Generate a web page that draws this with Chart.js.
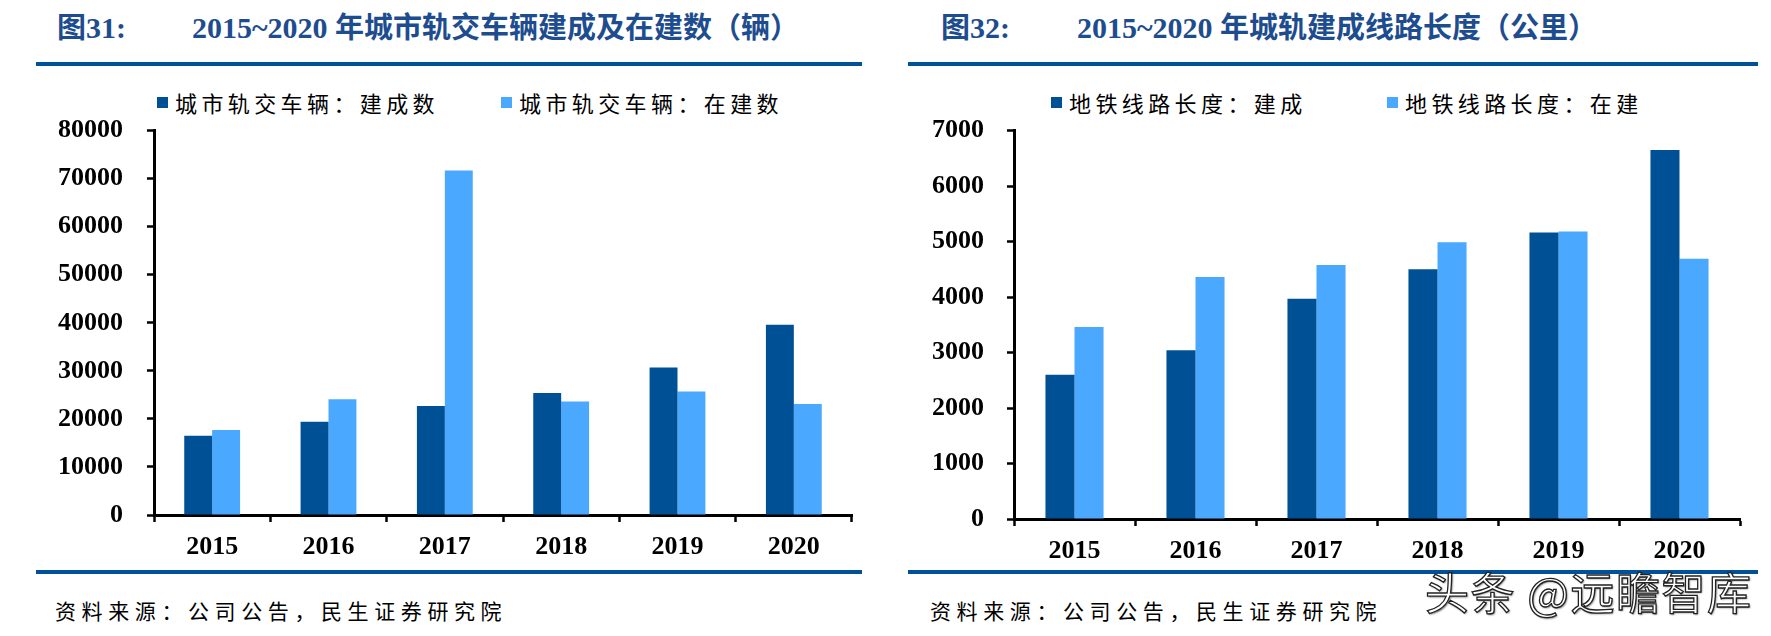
<!DOCTYPE html>
<html><head><meta charset="utf-8">
<script src="https://cdn.jsdelivr.net/npm/chart.js@4.4.0/dist/chart.umd.min.js"></script>
<style>
html,body{margin:0;padding:0;background:#fff;}
body{width:1771px;height:636px;position:relative;overflow:hidden;font-family:"Noto Sans CJK SC",sans-serif;}
.abs{position:absolute;white-space:nowrap;}
.title{color:#1E4D8F;font-weight:bold;font-family:"Liberation Serif","Noto Sans CJK SC",serif;font-size:30px;line-height:30px;}
.title .cjk{font-size:29px;font-family:"Noto Sans CJK SC",sans-serif;}
.rule{background:#00519A;height:4px;}
.src{font-size:21px;letter-spacing:5.6px;color:#000;line-height:24px;}
.leg{font-size:22px;letter-spacing:4.4px;color:#000;line-height:24px;display:flex;align-items:center;}
.leg i{display:inline-block;width:11px;height:11px;margin-right:7px;}
.wm{font-size:44px;color:#fff;-webkit-text-stroke:1.3px #222;text-shadow:1px 1px 2px rgba(0,0,0,0.6);line-height:46px;letter-spacing:1.5px;}
canvas{position:absolute;}
</style></head>
<body>
<div class="abs title" style="left:57px;top:10px;"><span class="cjk">图</span>31:</div>
<div class="abs title" style="left:192px;top:10px;">2015~2020 <span class="cjk">年城市轨交车辆建成及在建数（辆）</span></div>
<div class="abs title" style="left:941px;top:10px;"><span class="cjk">图</span>32:</div>
<div class="abs title" style="left:1077px;top:10px;">2015~2020 <span class="cjk">年城轨建成线路长度（公里）</span></div>
<div class="abs rule" style="left:36px;top:62px;width:826px;"></div>
<div class="abs rule" style="left:908px;top:62px;width:850px;"></div>
<div class="abs rule" style="left:36px;top:570px;width:826px;"></div>
<div class="abs rule" style="left:908px;top:570px;width:850px;"></div>
<div id="leg1"></div>
<div id="leg2"></div>
<canvas id="c1" width="885" height="469" style="left:0px;top:91px;"></canvas>
<canvas id="c2" width="886" height="472" style="left:885px;top:92px;"></canvas>
<div class="abs src" style="left:55px;top:598px;">资料来源：公司公告，民生证券研究院</div>
<div class="abs src" style="left:930px;top:598px;">资料来源：公司公告，民生证券研究院</div>
<div class="abs wm" style="left:1425px;top:568px;">头条 @远瞻智库</div>
<script>
// ---- data ----
const years = ['2015', '2016', '2017', '2018', '2019', '2020'];

const vehicleNames = ['城市轨交车辆：建成数', '城市轨交车辆：在建数'];
const vehiclesBuilt = [16500, 19400, 22700, 25400, 30700, 39600];
const vehiclesUnderConstruction = [17700, 24100, 71700, 23600, 25700, 23100];
const vehicleTicks = ['0', '10000', '20000', '30000', '40000', '50000', '60000', '70000', '80000'];

const lengthNames = ['地铁线路长度：建成', '地铁线路长度：在建'];
const lengthBuilt = [2600, 3040, 3970, 4500, 5165, 6650];
const lengthUnderConstruction = [3460, 4360, 4580, 4990, 5180, 4690];
const lengthTicks = ['0', '1000', '2000', '3000', '4000', '5000', '6000', '7000'];

const colors = ['#005096', '#4AA8FF'];

function makeLegend(id, names, positions) {
  const host = document.getElementById(id);
  names.forEach((n, i) => {
    const d = document.createElement('div');
    d.className = 'abs leg';
    d.style.left = positions[i] + 'px';
    d.style.top = '90px';
    d.innerHTML = '<i style="background:' + colors[i] + '"></i>' + n;
    host.appendChild(d);
  });
}
makeLegend('leg1', vehicleNames, [157, 501]);
makeLegend('leg2', lengthNames, [1051, 1387]);

function makeChart(id, names, a, b, tickLabels, step, yWidth, padRight, labelPad) {
  const tickFont = {family: '"Liberation Serif", serif', size: 26, weight: 'bold'};
  return new Chart(document.getElementById(id), {
    type: 'bar',
    data: {
      labels: years,
      datasets: [
        {label: names[0], data: a, backgroundColor: colors[0], borderWidth: 0},
        {label: names[1], data: b, backgroundColor: colors[1], borderWidth: 0}
      ]
    },
    options: {
      responsive: false,
      animation: false,
      devicePixelRatio: 1,
      datasets: {bar: {categoryPercentage: 0.48, barPercentage: 1.0}},
      layout: {padding: {top: 10, right: padRight, bottom: 0, left: 0}},
      plugins: {legend: {display: false}, tooltip: {enabled: false}},
      scales: {
        x: {
          afterFit: s => { s.height = 45; },
          border: {color: '#000', width: 3},
          grid: {display: true, drawOnChartArea: false, drawTicks: true, tickLength: 7, tickWidth: 2.5, tickColor: '#000', offset: true},
          ticks: {font: tickFont, color: '#000', padding: 10, maxRotation: 0}
        },
        y: {
          min: 0,
          max: step * (tickLabels.length - 1),
          afterFit: s => { s.width = yWidth; },
          border: {color: '#000', width: 3},
          grid: {display: true, drawOnChartArea: false, drawTicks: true, tickLength: 7, tickWidth: 2.5, tickColor: '#000'},
          ticks: {stepSize: step, font: tickFont, color: '#000', padding: labelPad,
                  callback: (v, i) => tickLabels[i]}
        }
      }
    }
  });
}
makeChart('c1', vehicleNames, vehiclesBuilt, vehiclesUnderConstruction, vehicleTicks, 10000, 154, 33, 24);
makeChart('c2', lengthNames, lengthBuilt, lengthUnderConstruction, lengthTicks, 1000, 129, 31, 23);
</script>
</body></html>
